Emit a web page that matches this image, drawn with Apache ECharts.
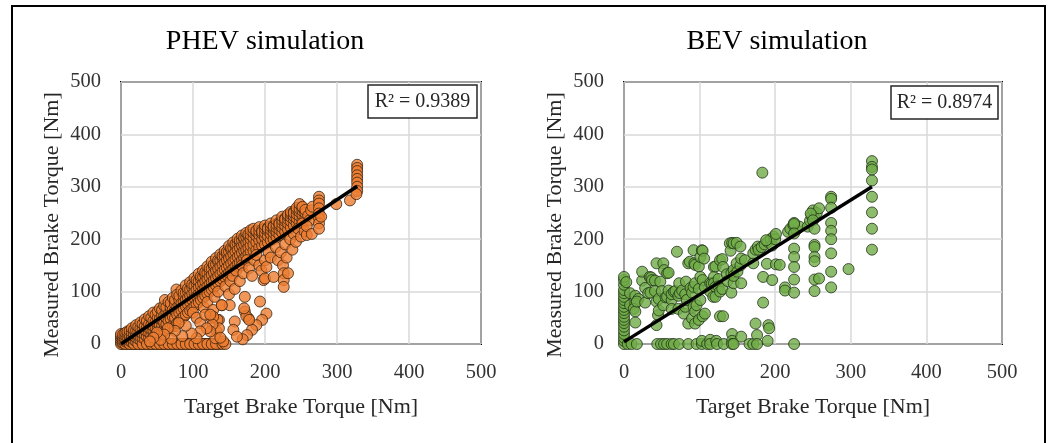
<!DOCTYPE html>
<html><head><meta charset="utf-8">
<script src="https://cdn.jsdelivr.net/npm/echarts@6/dist/echarts.min.js"></script>
<style>html,body{margin:0;padding:0;background:#fff}#c{width:1051px;height:443px}</style>
</head><body><div id="c"></div><script>
const titles = ['PHEV simulation', 'BEV simulation'];
const xAxisName = 'Target Brake Torque [Nm]';
const yAxisName = 'Measured Brake Torque [Nm]';
const axisTicks = [0, 100, 200, 300, 400, 500];
const r2Labels = ['R² = 0.9389', 'R² = 0.8974'];

const phevBand = [
[0,0],[0,4],[0,8],[0,12],[0,16],[0,19],[3,2],[3,7],[3,13],[3,18],[6,0],[6,5],[6,10],[6,16],[6,21],
[9,3],[9,8],[9,14],[9,20],[9,24],[12,0],[12,6],[12,12],[12,18],[12,25],[15,4],[15,10],[15,16],[15,22],[15,30],
[18,0],[18,8],[18,14],[18,20],[18,27],[21,5],[21,12],[21,18],[21,26],[21,36],[24,0],[24,10],[24,16],[24,24],[24,33],
[27,8],[27,14],[27,22],[27,30],[27,41],[30,0],[30,12],[30,20],[30,28],[30,38],[33,10],[33,18],[33,26],[33,34],[33,47],
[36,0],[36,14],[36,24],[36,32],[36,44],[39,12],[39,22],[39,30],[39,38],[39,53],[42,0],[42,16],[42,28],[42,36],[42,50],
[45,14],[45,26],[45,34],[45,44],[45,60],[48,0],[48,20],[48,32],[48,42],[48,56],[51,18],[51,30],[51,40],[51,50],[51,62],
[54,0],[54,24],[54,36],[54,48],[54,68],[57,22],[57,34],[57,46],[57,56],[57,65],[60,0],[60,28],[60,40],[60,54],[60,73],[61,84],
[63,26],[63,38],[63,50],[63,60],[63,70],[66,0],[66,30],[66,44],[66,58],[66,80],[69,32],[69,48],[69,62],[69,70],[69,78],
[72,0],[72,36],[72,52],[72,66],[72,88],[75,34],[75,50],[75,64],[75,76],[75,84],[77,104],[78,0],[78,40],[78,56],[78,70],[78,94],
[81,44],[81,60],[81,74],[81,84],[81,92],[84,0],[84,48],[84,64],[84,78],[84,102],[87,52],[87,68],[87,80],[87,92],[87,98],
[90,0],[90,56],[90,72],[90,84],[90,98],[90,112],[93,60],[93,76],[93,88],[93,100],[93,106],[96,0],[96,64],[96,80],[96,92],[96,104],[96,118],
[99,68],[99,84],[99,96],[99,108],[99,114],[102,0],[102,72],[102,88],[102,100],[102,112],[102,126],[105,76],[105,92],[105,104],[105,116],[105,122],
[108,0],[108,80],[108,96],[108,108],[108,120],[108,134],[111,84],[111,100],[111,112],[111,124],[111,129],[114,0],[114,88],[114,104],[114,116],[114,128],[114,140],
[117,92],[117,108],[117,120],[117,132],[117,137],[120,0],[120,96],[120,110],[120,124],[120,136],[120,148],[123,100],[123,114],[123,128],[123,140],[123,145],
[126,0],[126,104],[126,118],[126,132],[126,144],[126,157],[129,108],[129,122],[129,136],[129,148],[129,152],[132,0],[132,112],[132,126],[132,140],[132,152],[132,164],
[135,116],[135,130],[135,144],[135,156],[135,160],[138,120],[138,134],[138,148],[138,160],[138,171],[141,0],[141,124],[141,138],[141,152],[141,164],[141,168],
[144,128],[144,142],[144,156],[144,168],[144,178],[147,132],[147,146],[147,160],[147,172],[147,176],[150,136],[150,150],[150,164],[150,176],[150,187],
[153,140],[153,154],[153,168],[153,180],[153,184],[156,144],[156,158],[156,172],[156,184],[156,194],[159,148],[159,162],[159,176],[159,188],[159,191],
[162,152],[162,166],[162,180],[162,192],[162,201],[165,156],[165,170],[165,184],[165,194],[165,198],[168,160],[168,174],[168,188],[168,198],[168,207],
[171,164],[171,178],[171,190],[171,200],[171,203],[174,168],[174,180],[174,194],[174,204],[174,212],[177,172],[177,184],[177,196],[177,206],[177,209],
[180,176],[180,188],[180,200],[180,208],[180,217],[184,178],[184,190],[184,202],[184,212],[184,220],[188,180],[188,194],[188,206],[188,214],[188,216],
[192,184],[192,198],[192,208],[192,216],[192,223],[196,188],[196,200],[196,210],[196,218],[196,214],[200,190],[200,204],[200,212],[200,220],[200,226],
[204,194],[204,206],[204,216],[204,222],[204,220],[208,198],[208,210],[208,218],[208,224],[208,230],[212,200],[212,212],[212,220],[212,226],[212,224],
[216,204],[216,214],[216,222],[216,228],[216,236],[220,208],[220,218],[220,226],[220,232],[220,229],[224,212],[224,222],[224,230],[224,236],[224,243],
[228,214],[228,226],[228,234],[228,240],[228,238],[232,218],[232,230],[232,238],[232,244],[232,247],[236,222],[236,234],[236,242],[236,248],[236,252],
[240,226],[240,238],[240,244],[240,252],[240,250],[244,230],[244,240],[244,248],[244,256],[244,260],[248,232],[248,244],[248,252],[248,258],[248,267],
[252,236],[252,246],[252,254],[252,260],[252,262],[256,240],[256,250],[256,256]
];
const phevBelow = [
[100,60],[105,50],[110,40],[115,70],[120,80],[125,50],[128,65],[130,90],[135,100],[140,74],[145,110],[150,95],[152,120],[155,130],[158,105],
[160,140],[165,120],[168,150],[170,135],[172,90],[175,160],[178,145],[182,130],[185,160],[188,170],[192,150],[195,140],[198,122],[200,125],[200,160],
[202,147],[205,175],[208,165],[212,128],[215,185],[218,160],[222,175],[225,150],[226,135],[226,122],[226,109],[228,190],[230,165],[232,135],
[235,200],[238,180],[240,210],[243,195],[246,220],[250,205],[252,230],[255,215],[258,208],
[193,81],[151,74],[140,74],[202,58],[196,46],[188,36],[182,27],[175,17],[169,9],[172,62],[177,49],[158,43],[156,27],[161,14],[174,53],[178,46],[171,68],
[136,46],[134,46],[128,52],[133,24],[131,11],[136,30],[127,37],[124,24],[117,56],[124,56],[119,30],[110,24],[105,11],[98,20],[90,35],[85,15],
[80,40],[75,25],[70,10],[65,30],[60,18],[55,8],[50,22],[45,12],[40,5],[145,0],[142,5],[138,12]
];
const phevZero = [
[2,0],[5,0],[8,0],[11,0],[14,0],[17,0],[20,0],[23,0],[26,0],[29,0],[32,0],[35,0],[38,0],[41,0],[44,0],[47,0],[50,0],[53,0],[56,0],[59,0],
[62,0],[65,0],[68,0],[71,0],[74,0],[77,0],[80,0],[83,0],[86,0],[89,0],[92,0],[95,0],[98,0],[101,0],[104,0],[107,0],[110,0],[113,0],[116,0],
[119,0],[122,0],[125,0],[128,0],[131,0],[134,0],[137,0]
];
const phevHigh = [
[260,245],[262,236],[258,225],[264,255],[265,210],[266,262],
[275,281],[275,274],[275,268],[275,259],[275,249],[275,240],[275,230],[275,220],[278,243],
[299,267],[318,274],
[328,342],[328,336],[328,330],[328,322],[328,315],[328,308],[328,300],[328,292],[327,286]
];
const bevPoints = [
[0,0],[0,6],[0,12],[0,19],[0,26],[0,33],[0,40],[0,46],[0,52],[0,59],[0,65],[0,71],[0,78],[0,84],[0,90],[0,97],[0,103],[0,113],[0,122],[0,128],
[3,118],[5,0],[10,0],[17,0],[8,97],[8,74],[15,92],[19,86],[15,77],[13,67],[15,62],[15,41],[17,81],[24,121],[24,138],[28,79],[28,107],[32,97],
[34,128],[35,98],[36,127],[37,122],[41,121],[41,101],[43,154],[43,81],[45,55],[43,36],[44,0],[46,86],[46,64],[48,119],[49,0],[50,101],
[52,154],[52,74],[53,0],[53,141],[55,89],[57,135],[57,90],[57,0],[59,136],[59,102],[63,84],[63,95],[63,0],[63,67],[66,100],[66,0],[68,101],
[70,176],[72,92],[72,67],[73,116],[73,0],[74,97],[77,102],[79,58],[81,95],[81,71],[82,119],[83,84],[85,154],[85,39],[85,0],[87,157],[88,107],
[90,98],[90,49],[92,179],[92,109],[92,71],[93,154],[94,151],[94,116],[94,62],[94,39],[96,74],[96,0],[99,148],[99,105],[99,46],[101,166],[101,128],
[101,84],[103,179],[103,0],[103,6],[104,178],[104,122],[104,53],[106,163],[107,108],[107,58],[110,0],[114,116],[114,100],[114,8],[114,0],[116,115],
[118,90],[119,147],[119,128],[119,116],[121,109],[121,90],[121,148],[122,6],[123,0],[125,124],[125,110],[127,160],[127,100],[127,53],[130,162],
[130,105],[131,147],[131,53],[132,0],[136,133],[137,120],[140,192],[141,178],[142,135],[142,98],[143,193],[143,19],[143,6],[143,0],[145,192],
[145,141],[145,116],[145,130],[145,0],[149,154],[149,193],[150,138],[154,186],[154,150],[155,163],[155,116],[155,14],[160,160],[166,0],[171,0],
[171,154],[171,173],[174,39],[174,180],[176,17],[176,0],[177,186],[178,180],[182,185],[183,327],[184,128],[184,79],[186,190],[189,153],[190,195],
[190,6],[191,36],[192,30],[194,200],[196,122],[196,188],[198,205],[200,200],[201,152],[201,210],[188,198],[206,151],[213,108],[213,102],
[217,214],[220,220],[224,227],[228,218],[232,224],[225,231],[225,229],[225,211],[225,182],[225,166],[225,147],[225,123],[225,98],[225,0],
[243,224],[246,235],[248,245],[250,255],[252,240],[255,250],[258,259],[247,249],[250,236],[252,220],[252,189],[252,185],[252,166],[252,158],
[252,123],[252,101],[258,125],[274,281],[274,277],[274,260],[274,231],[274,216],[274,200],[274,173],[274,138],[274,108],[297,143],
[328,349],[328,338],[328,333],[328,312],[328,281],[328,251],[328,220],[328,180]
];
const phevTrend = [[0, 0], [328, 301]];
const bevTrend = [[0, 4], [328, 300]];

const FONT = '"Liberation Serif", "Times New Roman", serif';
const chart = echarts.init(document.getElementById('c'), null, { renderer: 'canvas' });

function xAx(gi) {
  return {
    gridIndex: gi, type: 'value', min: axisTicks[0], max: axisTicks[axisTicks.length - 1], interval: 100,
    name: xAxisName, nameLocation: 'middle', nameGap: 52,
    nameTextStyle: { fontFamily: FONT, fontSize: 22, color: '#262626' },
    axisLine: { show: false }, axisTick: { show: false },
    axisLabel: { margin: 18, fontFamily: FONT, fontSize: 20.5, color: '#333333' },
    splitLine: { show: true, lineStyle: { color: '#d9d9d9', width: 1.5 } }
  };
}
function yAx(gi) {
  return {
    gridIndex: gi, type: 'value', min: axisTicks[0], max: axisTicks[axisTicks.length - 1], interval: 100,
    axisLine: { show: false }, axisTick: { show: false },
    axisLabel: { margin: 20, fontFamily: FONT, fontSize: 20.5, color: '#333333' },
    splitLine: { show: true, lineStyle: { color: '#d9d9d9', width: 1.5 } }
  };
}
const phevAll = phevZero.concat(phevBand, phevBelow, phevHigh);
const orangeStyle = { color: '#ED7D31', borderColor: '#3a2412', borderWidth: 1 };
const greenStyle = { color: '#70AD47', borderColor: '#22331a', borderWidth: 1 };

chart.setOption({
  animation: false,
  backgroundColor: '#fff',
  grid: [
    { left: 121, top: 82, width: 360, height: 262, show: true, borderColor: '#000', borderWidth: 2, backgroundColor: 'transparent' },
    { left: 624, top: 82, width: 378, height: 262, show: true, borderColor: '#000', borderWidth: 2, backgroundColor: 'transparent' }
  ],
  xAxis: [xAx(0), xAx(1)],
  yAxis: [yAx(0), yAx(1)],
  series: [
    { type: 'scatter', xAxisIndex: 0, yAxisIndex: 0, data: phevAll, symbolSize: 11, itemStyle: orangeStyle },
    { type: 'line', xAxisIndex: 0, yAxisIndex: 0, data: phevTrend, showSymbol: false, symbol: 'none', clip: true, z: 5, lineStyle: { color: '#000', width: 3.4 } },
    { type: 'scatter', xAxisIndex: 1, yAxisIndex: 1, data: bevPoints, symbolSize: 11, itemStyle: greenStyle },
    { type: 'line', xAxisIndex: 1, yAxisIndex: 1, data: bevTrend, showSymbol: false, symbol: 'none', clip: true, z: 5, lineStyle: { color: '#000', width: 3.4 } }
  ],
  graphic: [
    { type: 'rect', shape: { x: 12, y: 6, width: 1033, height: 470 }, style: { fill: 'none', stroke: '#000', lineWidth: 2 }, silent: true },
    { type: 'text', x: 265, y: 42, style: { text: titles[0], font: '28px ' + FONT, fill: '#000', textAlign: 'center', textVerticalAlign: 'middle' } },
    { type: 'text', x: 777, y: 42, style: { text: titles[1], font: '28px ' + FONT, fill: '#000', textAlign: 'center', textVerticalAlign: 'middle' } },
    { type: 'text', x: 52, y: 225, rotation: Math.PI / 2, style: { text: yAxisName, font: '22px ' + FONT, fill: '#262626', textAlign: 'center', textVerticalAlign: 'middle' } },
    { type: 'text', x: 555, y: 225, rotation: Math.PI / 2, style: { text: yAxisName, font: '22px ' + FONT, fill: '#262626', textAlign: 'center', textVerticalAlign: 'middle' } },
    { type: 'rect', z: 10, shape: { x: 368, y: 85, width: 109, height: 33 }, style: { fill: '#fff', stroke: '#262626', lineWidth: 1.5 } },
    { type: 'text', z: 11, x: 422.5, y: 102, style: { text: r2Labels[0], font: '20px ' + FONT, fill: '#262626', textAlign: 'center', textVerticalAlign: 'middle' } },
    { type: 'rect', z: 10, shape: { x: 891, y: 86, width: 107, height: 33 }, style: { fill: '#fff', stroke: '#262626', lineWidth: 1.5 } },
    { type: 'text', z: 11, x: 944.5, y: 103, style: { text: r2Labels[1], font: '20px ' + FONT, fill: '#262626', textAlign: 'center', textVerticalAlign: 'middle' } }
  ]
});
</script></body></html>
